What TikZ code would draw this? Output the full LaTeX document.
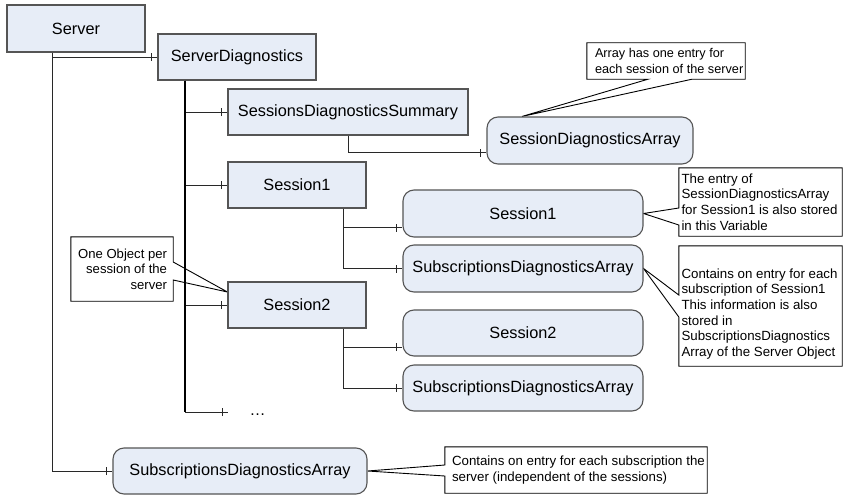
\documentclass[tikz,border=0pt]{standalone}
\usepackage{fontspec}
\setmainfont{Liberation Sans}
\usetikzlibrary{decorations.markings,calc,backgrounds}
\definecolor{boxfill}{RGB}{231,237,247}
\definecolor{boxline}{RGB}{85,85,85}
\definecolor{conncol}{RGB}{40,40,40}
\begin{document}
\begin{tikzpicture}[x=1pt,y=-1pt,
  box/.style={draw=boxline, fill=boxfill, line width=1.1pt, font=\fontsize{16.3}{19}\selectfont, inner sep=0pt},
  rbox/.style={box, rounded corners=11pt},
  conn/.style={draw=conncol, line width=0.9pt},
  tick/.style={conn, postaction={decorate}, decoration={markings, mark=at position -6pt with {\draw[draw=conncol, line width=0.9pt] (0pt,-4pt) -- (0pt,4pt);}}},
  trunkline/.style={draw=black, line width=1.8pt},
  frame/.style={inner sep=0pt},
  notetext/.style={inner sep=0pt, font=\fontsize{13.3}{15.7}\selectfont, align=left},
  notebox/.style={draw=black, fill=white, line width=0.9pt, line join=miter},
]
\useasboundingbox (0,0) rectangle (843,495);

% main boxes
\node[box, minimum width=138pt, minimum height=47pt] (server) at (76,28.5) {Server};
\node[box, minimum width=158pt, minimum height=46pt] (sdiag) at (237,57) {ServerDiagnostics};
\node[box, minimum width=240pt, minimum height=46pt] (summary) at (348,112) {SessionsDiagnosticsSummary};
\node[box, minimum width=138pt, minimum height=46pt] (sess1) at (297,185) {Session1};
\node[box, minimum width=138pt, minimum height=46pt] (sess2) at (297,305) {Session2};
\node[rbox, minimum width=206pt, minimum height=47pt] (sda) at (590,140.5) {SessionDiagnosticsArray};
\node[rbox, minimum width=240pt, minimum height=47pt] (s1r) at (523,213.5) {Session1};
\node[rbox, minimum width=240pt, minimum height=47pt] (sub1) at (523,268.5) {SubscriptionsDiagnosticsArray};
\node[rbox, minimum width=240pt, minimum height=46pt] (s2r) at (523,333) {Session2};
\node[rbox, minimum width=240pt, minimum height=46pt] (sub2) at (523,388) {SubscriptionsDiagnosticsArray};
\node[rbox, minimum width=254pt, minimum height=46pt] (subsAll) at (240,471) {SubscriptionsDiagnosticsArray};

% ellipsis
\coordinate (ell) at (228,412);
\node[inner sep=0pt, font=\fontsize{16}{19}\selectfont] (dots) at (257.5,415) {…};

% connectors
\coordinate (strunk) at ([xshift=-24pt]server.south);
\draw[tick] (strunk) |- (sdiag.west);
\draw[tick] (strunk) |- (subsAll.west);

\coordinate (trunk) at ([xshift=-52pt]sdiag.south);
\draw[tick] (trunk) |- (summary.west);
\draw[tick] (trunk) |- (sess1.west);
\draw[tick] (trunk) |- (sess2.west);
\draw[tick] (trunk) |- (ell);
\draw[trunkline] (trunk) -- (trunk |- ell);

\draw[tick] (summary.south) |- ([yshift=-12pt]sda.west);

\coordinate (s1b) at ([xshift=46pt]sess1.south);
\draw[tick] (s1b) |- ([yshift=-14pt]s1r.west);
\draw[tick] (s1b) |- (sub1.west);

\coordinate (s2b) at ([xshift=46pt]sess2.south);
\draw[tick] (s2b) |- ([yshift=-14pt]s2r.west);
\draw[tick] (s2b) |- (sub2.west);

% callouts
\node[frame, minimum width=158pt, minimum height=36pt] (c1) at (666,61) {};
\node[notetext, anchor=west, font=\fontsize{12.7}{15.3}\selectfont] (c1t) at ([xshift=8pt]c1.west) {Array has one entry for\\each session of the server};

\node[frame, minimum width=163pt, minimum height=68pt] (c2) at (760.5,202) {};
\node[notetext, anchor=west] (c2t) at ([xshift=2.5pt]c2.west) {The entry of\\SessionDiagnosticsArray\\for Session1 is also stored\\in this Variable};

\node[frame, minimum width=163pt, minimum height=120pt] (c3) at (760.5,306) {};
\node[notetext, anchor=west] (c3t) at ([xshift=2.5pt,yshift=-8pt]c3.west) {Contains on entry for each\\subscription of Session1\\This information is also\\stored in\\SubscriptionsDiagnostics\\Array of the Server Object};

\node[frame, minimum width=102pt, minimum height=64pt] (c4) at (122,269) {};
\node[notetext, anchor=east, align=right, font=\fontsize{13.1}{15.5}\selectfont] (c4t) at ([xshift=-6pt]c4.east) {One Object per\\session of the\\server};

\node[frame, minimum width=262pt, minimum height=46pt] (c5) at (576,470) {};
\node[notetext, anchor=west] (c5t) at ([xshift=7pt]c5.west) {Contains on entry for each subscription the\\server (independent of the sessions)};

\begin{scope}[on background layer]
\draw[notebox] (c1.north west) -- (c1.north east) -- (c1.south east) -- ([xshift=26pt]c1.south) -- ([xshift=-68pt]sda.north) -- ([xshift=-18pt]c1.south) -- (c1.south west) -- cycle;
\draw[notebox] (c2.north west) -- (c2.north east) -- (c2.south east) -- (c2.south west) -- ([yshift=-23pt]c2.west) -- (s1r.east) -- ([yshift=-6pt]c2.west) -- cycle;
\draw[notebox] (c3.north west) -- (c3.north east) -- (c3.south east) -- (c3.south west) -- ([yshift=-11pt]c3.west) -- (sub1.east) -- ([yshift=11pt]c3.west) -- cycle;
\draw[notebox] (c4.north west) -- (c4.north east) -- ([yshift=7pt]c4.east) -- ([yshift=13pt]sess2.west) -- ([yshift=-11pt]c4.east) -- (c4.south east) -- (c4.south west) -- cycle;
\draw[notebox] (c5.north west) -- (c5.north east) -- (c5.south east) -- (c5.south west) -- ([yshift=-6pt]c5.west) -- (subsAll.east) -- ([yshift=5pt]c5.west) -- cycle;
\end{scope}
\end{tikzpicture}
\end{document}
